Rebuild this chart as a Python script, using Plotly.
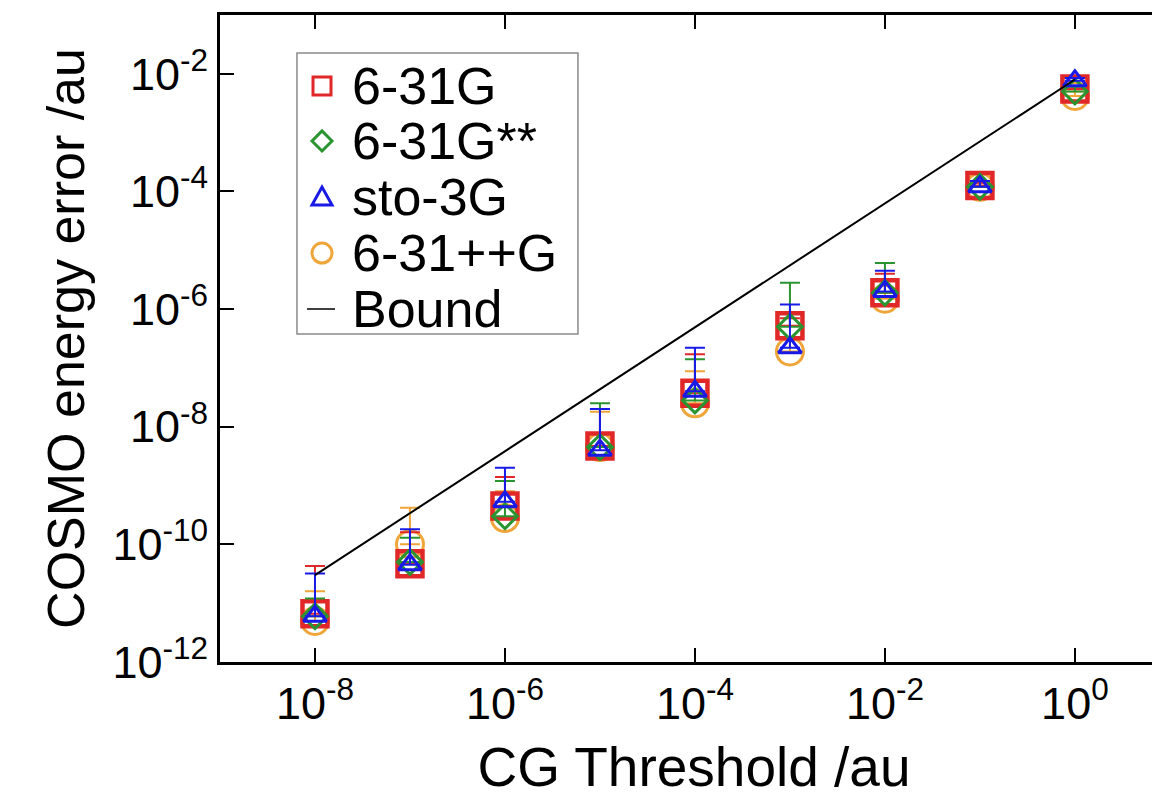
import plotly.graph_objects as go

# CG threshold (x)
thresholds = [1e-8, 1e-7, 1e-6, 1e-5, 1e-4, 1e-3, 1e-2, 1e-1, 1.0]

# series values (COSMO energy error, au) and upper error-bar ends
g631 = [6.6e-12, 4.7e-11, 4.5e-10, 4.7e-9, 3.7e-8, 5.2e-7, 1.9e-6, 1.26e-4, 5.5e-3]
g631_hi = [4.3e-11, 1.6e-10, 1.4e-9, 2.0e-8, 1.7e-7, 7.0e-7, 4.0e-6, 1.4e-4, 6.0e-3]

g631ss = [6.0e-12, 5.0e-11, 3.0e-10, 4.5e-9, 2.8e-8, 5.0e-7, 1.9e-6, 1.2e-4, 5.0e-3]
g631ss_hi = [1.2e-11, 1.3e-10, 1.2e-9, 2.5e-8, 1.4e-7, 2.8e-6, 6.1e-6, 1.5e-4, 6.0e-3]

sto3g = [6.0e-12, 4.5e-11, 5.3e-10, 4.0e-9, 4.0e-8, 2.2e-7, 2.0e-6, 1.2e-4, 7.6e-3]
sto3g_hi = [3.2e-11, 1.8e-10, 2.0e-9, 2.0e-8, 2.2e-7, 1.2e-6, 4.5e-6, 1.5e-4, 8.5e-3]

g631pp = [5.0e-12, 1.0e-10, 2.8e-10, 4.5e-9, 2.5e-8, 1.9e-7, 1.5e-6, 1.2e-4, 4.2e-3]
g631pp_hi = [1.6e-11, 4.2e-10, 8.0e-10, 1.8e-8, 8.8e-8, 3.0e-7, 3.0e-6, 1.4e-4, 5.0e-3]

bound_x = [1e-8, 1.0]
bound_y = [3.0e-11, 8.0e-3]

legend_names = ["6-31G", "6-31G**", "sto-3G", "6-31++G", "Bound"]

x_tickvals = [1e-8, 1e-6, 1e-4, 1e-2, 1.0]
x_ticktext = ["10<sup>-8</sup>", "10<sup>-6</sup>", "10<sup>-4</sup>", "10<sup>-2</sup>", "10<sup>0</sup>"]
y_tickvals = [1e-12, 1e-10, 1e-8, 1e-6, 1e-4, 1e-2]
y_ticktext = ["10<sup>-12</sup>", "10<sup>-10</sup>", "10<sup>-8</sup>", "10<sup>-6</sup>",
              "10<sup>-4</sup>", "10<sup>-2</sup>"]

RED = "#e02828"
GREEN = "#2a9430"
BLUE = "#1a1ae6"
ORANGE = "#f0a538"
FONT = "Liberation Sans, Arial, sans-serif"

fig = go.Figure()


def series(vals, hi, color, symbol, size, lw, name):
    plus = [h - v for h, v in zip(hi, vals)]
    minus = [0 for _ in vals]
    fig.add_trace(go.Scatter(
        x=thresholds, y=vals, mode="markers", name=name, showlegend=False,
        marker=dict(symbol=symbol, size=size, color=color,
                    line=dict(color=color, width=lw)),
        error_y=dict(type="data", symmetric=False, array=plus, arrayminus=minus,
                     color=color, thickness=2, width=10),
    ))


series(g631pp, g631pp_hi, ORANGE, "circle-open", 27, 3, "6-31++G")
series(g631, g631_hi, RED, "square-open", 25, 4.5, "6-31G")
series(g631ss, g631ss_hi, GREEN, "diamond-open", 19, 3, "6-31G**")
series(sto3g, sto3g_hi, BLUE, "triangle-up-open", 20, 3, "sto-3G")

fig.add_trace(go.Scatter(x=bound_x, y=bound_y, mode="lines", showlegend=False,
                         line=dict(color="black", width=2), name="Bound"))

# ---- hand-drawn legend box (paper coordinates) ----
LEG_X0, LEG_X1, LEG_Y0, LEG_Y1 = 0.0812, 0.3776, 0.5070, 0.9413
row_y = [0.8903, 0.8053, 0.7187, 0.6321, 0.5456]
sym_x = 0.1076
text_x = 0.1371

shapes = [dict(type="rect", xref="paper", yref="paper", x0=LEG_X0, x1=LEG_X1,
               y0=LEG_Y0, y1=LEG_Y1, line=dict(color="#8a8a8a", width=1.5),
               fillcolor="white", layer="below")]
common = dict(xref="paper", yref="paper", xsizemode="pixel", ysizemode="pixel", xanchor=sym_x)
shapes.append(dict(type="rect", yanchor=row_y[0], x0=-9, x1=9, y0=-9, y1=9,
                   line=dict(color=RED, width=3), **common))
shapes.append(dict(type="path", yanchor=row_y[1], path="M0,-10 L10,0 L0,10 L-10,0 Z",
                   line=dict(color=GREEN, width=3), **common))
shapes.append(dict(type="path", yanchor=row_y[2], path="M-10,-8 L10,-8 L0,10 Z",
                   line=dict(color=BLUE, width=3), **common))
shapes.append(dict(type="circle", yanchor=row_y[3], x0=-10, x1=10, y0=-10, y1=10,
                   line=dict(color=ORANGE, width=3), **common))
shapes.append(dict(type="line", yanchor=row_y[4], x0=-15, x1=13, y0=0, y1=0,
                   line=dict(color="black", width=1.5), **common))

annotations = [dict(xref="paper", yref="paper", x=text_x, y=yy, text=nm, showarrow=False,
                    xanchor="left", yanchor="middle", font=dict(size=52, family=FONT, color="black"))
               for nm, yy in zip(legend_names, row_y)]

fig.update_layout(
    width=1160, height=804,
    margin=dict(l=212, r=0, t=7, b=150, autoexpand=False),
    paper_bgcolor="white", plot_bgcolor="white",
    font=dict(family=FONT, color="black", size=44),
    showlegend=False,
    shapes=shapes,
    annotations=annotations,
    xaxis=dict(type="log", range=[-9, 0.98], tickvals=x_tickvals, ticktext=x_ticktext,
               ticks="inside", ticklen=14, tickwidth=2, tickcolor="black",
               showline=True, linecolor="black", linewidth=3, mirror="ticks",
               showgrid=False, zeroline=False, automargin=False,
               title=dict(text="CG Threshold /au", font=dict(size=55), standoff=20),
               tickfont=dict(size=45)),
    yaxis=dict(type="log", range=[-12, -1], tickvals=y_tickvals, ticktext=y_ticktext,
               ticks="inside", ticklen=14, tickwidth=2, tickcolor="black",
               showline=True, linecolor="black", linewidth=3, mirror="ticks",
               showgrid=False, zeroline=False, automargin=False,
               title=dict(text="COSMO energy error /au", font=dict(size=52), standoff=12),
               tickfont=dict(size=45)),
)

fig.write_html("out.html")
